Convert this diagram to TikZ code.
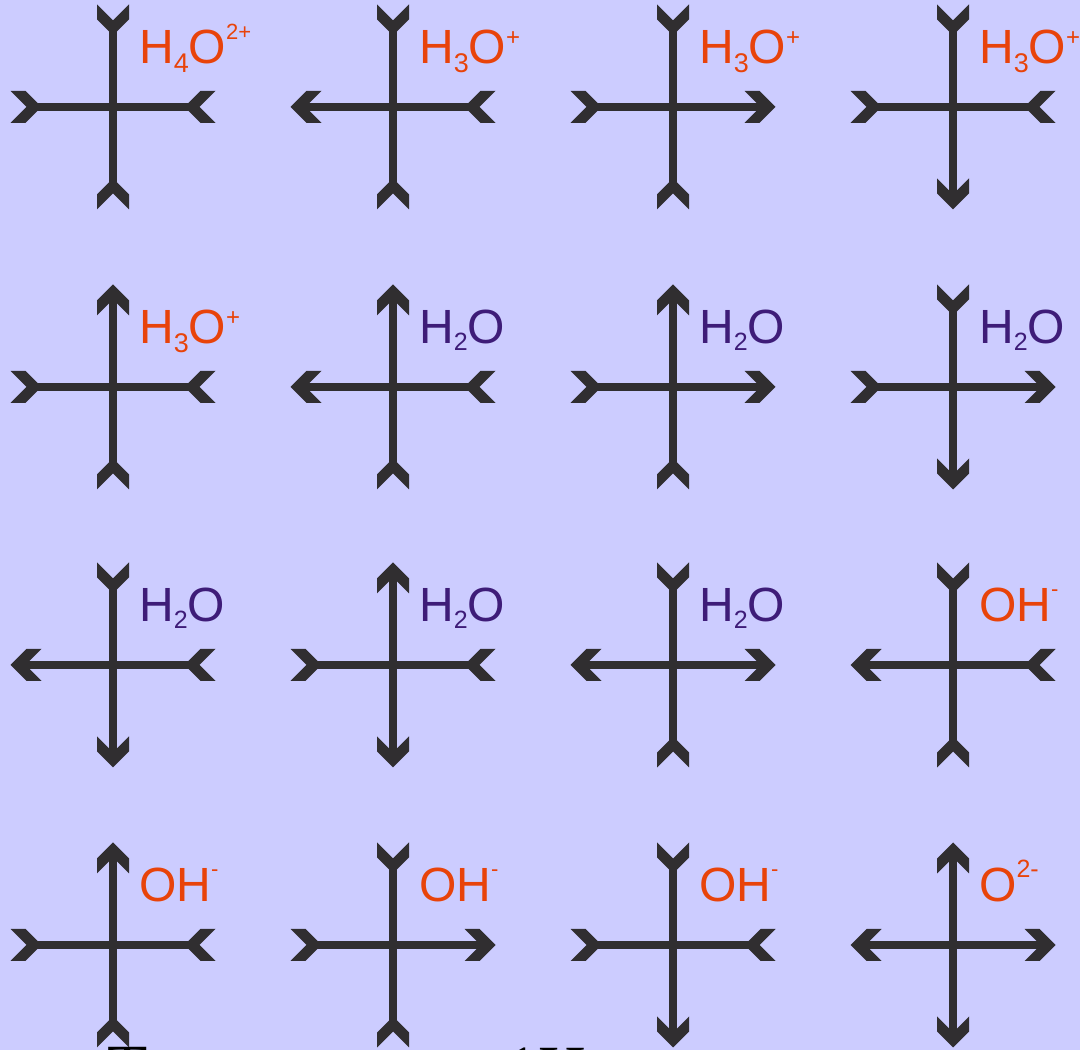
\documentclass[tikz,border=0pt]{standalone}
\usepackage{fontspec}
\setmainfont{Liberation Sans}
\newfontfamily\capserif{Liberation Serif}
\definecolor{bg}{RGB}{204,204,255}
\definecolor{ink}{RGB}{48,46,48}
\definecolor{ionc}{RGB}{232,67,10}
\definecolor{waterc}{RGB}{62,28,120}
\tikzset{
  bond/.style={draw=ink, line width=8pt, line cap=butt},
  tipfill/.style={fill=ink},
  chemlabel/.style={anchor=base west, inner sep=0pt, font=\fontsize{48}{48}\selectfont},
  captext/.style={anchor=base west, inner sep=0pt, text=black, font=\capserif\fontsize{66}{66}\selectfont}
}
\newcommand\armo{\draw[bond] (0,0) -- (93,0);
  \fill[tipfill] (102.5,0) -- (86.5,16) -- (71.5,16) -- (87.5,0) -- (71.5,-16) -- (86.5,-16) -- cycle;}
\newcommand\armi{\draw[bond] (0,0) -- (79,0);
  \fill[tipfill] (102.5,16) -- (86.5,0) -- (102.5,-16) -- (87.5,-16) -- (71.5,0) -- (87.5,16) -- cycle;}
% #1 size, #2 raise, #3 text
\newcommand\chsc[3]{\raisebox{#2}{\fontsize{#1}{#1}\selectfont #3}}
\newcommand\HfourO{\color{ionc}H\chsc{27}{-9pt}{4}O\chsc{22}{24pt}{2+}}
\newcommand\HthreeO{\color{ionc}H\chsc{27}{-9pt}{3}O\chsc{24}{18pt}{+}}
\newcommand\HtwoO{\color{waterc}H\chsc{25}{-7pt}{2}O}
\newcommand\OHm{\color{ionc}OH\chsc{22}{25pt}{-}}
\newcommand\Otwo{\color{ionc}O\chsc{25}{24pt}{2-}}
\begin{document}
\begin{tikzpicture}[x=1pt,y=1pt]
\useasboundingbox (0,0) rectangle (1080,1050);
\fill[bg] (0,0) rectangle (1080,1050);
\clip (0,0) rectangle (1080,1050);
\foreach \cx/\cy/\aT/\aR/\aB/\aL/\lab [count=\k] in {
  113/943/i/i/i/i/\HfourO,
  393/943/i/i/i/o/\HthreeO,
  673/943/i/o/i/i/\HthreeO,
  953/943/i/i/o/i/\HthreeO,
  113/663/o/i/i/i/\HthreeO,
  393/663/o/i/i/o/\HtwoO,
  673/663/o/o/i/i/\HtwoO,
  953/663/i/o/o/i/\HtwoO,
  113/385/i/i/o/o/\HtwoO,
  393/385/o/i/o/i/\HtwoO,
  673/385/i/o/i/o/\HtwoO,
  953/385/i/i/i/o/\OHm,
  113/105/o/i/i/i/\OHm,
  393/105/i/o/i/i/\OHm,
  673/105/i/i/o/i/\OHm,
  953/105/o/o/o/o/\Otwo} {
  \coordinate (c\k) at (\cx,\cy);
  \begin{scope}[shift={(c\k)}]
    \begin{scope}[rotate=90]\csname arm\aT\endcsname\end{scope}
    \begin{scope}[rotate=0]\csname arm\aR\endcsname\end{scope}
    \begin{scope}[rotate=270]\csname arm\aB\endcsname\end{scope}
    \begin{scope}[rotate=180]\csname arm\aL\endcsname\end{scope}
    \node[chemlabel] (lab\k) at (26,43) {\lab};
  \end{scope}
}
\node[captext] (capT) at (107,-41) {T};
\node[captext] (capH) at (505,-42) {1H};
\end{tikzpicture}
\end{document}
